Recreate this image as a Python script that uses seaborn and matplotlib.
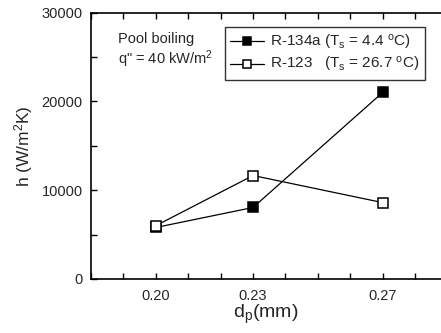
import matplotlib
matplotlib.use("Agg")
import matplotlib.pyplot as plt
import seaborn as sns
import pandas as pd
from matplotlib.ticker import FixedLocator, MultipleLocator

sns.set_style("ticks")
plt.rcParams['font.family'] = ['Liberation Sans', 'DejaVu Sans']
plt.rcParams['mathtext.fontset'] = 'custom'
plt.rcParams['mathtext.rm'] = 'Liberation Sans'
plt.rcParams['mathtext.it'] = 'Liberation Sans:italic'

dp = [0.20, 0.23, 0.27]
h_r134a = [5800, 8050, 21000]
h_r123 = [6000, 11650, 8600]
labels = [r"R-134a (T$_\mathrm{s}$ = 4.4 $^\mathrm{o}$C)",
          r"R-123   (T$_\mathrm{s}$ = 26.7 $^\mathrm{o}$C)"]
xticks = [0.20, 0.23, 0.27]
yticks = [0, 10000, 20000, 30000]

df = pd.DataFrame({"dp": dp * 2,
                   "h": h_r134a + h_r123,
                   "series": [labels[0]] * 3 + [labels[1]] * 3})

fig = plt.figure(figsize=(4.41, 3.33), dpi=100)
ax = fig.add_axes([91/441, 1 - 279/333, 1 - 91/441, (279 - 12.5)/333])

for lab, fc in zip(labels, ["black", "white"]):
    sub = df[df["series"] == lab]
    sns.lineplot(data=sub, x="dp", y="h", ax=ax, color="black", lw=0.9,
                 marker="s", markersize=7, markerfacecolor=fc,
                 markeredgecolor="black", markeredgewidth=1.1, label=lab)

ax.set_xlim(0.18, 0.288)
ax.set_ylim(0, 30000)
ax.xaxis.set_major_locator(FixedLocator(xticks))
ax.xaxis.set_minor_locator(MultipleLocator(0.01))
ax.set_xticklabels(["%.2f" % v for v in xticks])
ax.set_yticks(yticks)
ax.yaxis.set_minor_locator(MultipleLocator(5000))
ax.tick_params(which="both", direction="in", top=True, right=False,
               length=4, width=1, labelsize=10.5, color="black")
ax.tick_params(axis="y", pad=6)
ax.tick_params(axis="x", pad=7)
for s in ["left", "bottom", "top"]:
    ax.spines[s].set_linewidth(1.2)
    ax.spines[s].set_color("black")
ax.spines["right"].set_visible(False)

ax.set_xlabel(r"d$_\mathrm{p}$(mm)", fontsize=14, labelpad=0)
ax.set_ylabel(r"h (W/m$^\mathrm{2}$K)", fontsize=12.5, labelpad=5)

ax.text(0.077, 0.885, "Pool boiling", transform=ax.transAxes, fontsize=10.5)
ax.text(0.077, 0.805, "q\" = 40 kW/m$^\\mathrm{2}$", transform=ax.transAxes, fontsize=10.5)

leg = ax.legend(loc="upper left", bbox_to_anchor=(0.383, 0.945), fontsize=11,
                frameon=True, fancybox=False, edgecolor="black",
                handlelength=2.2, handletextpad=0.4, borderpad=0.35,
                labelspacing=0.25, borderaxespad=0, markerscale=0.85)
leg.get_frame().set_linewidth(1.0)

fig.savefig("out.png", dpi=100)
